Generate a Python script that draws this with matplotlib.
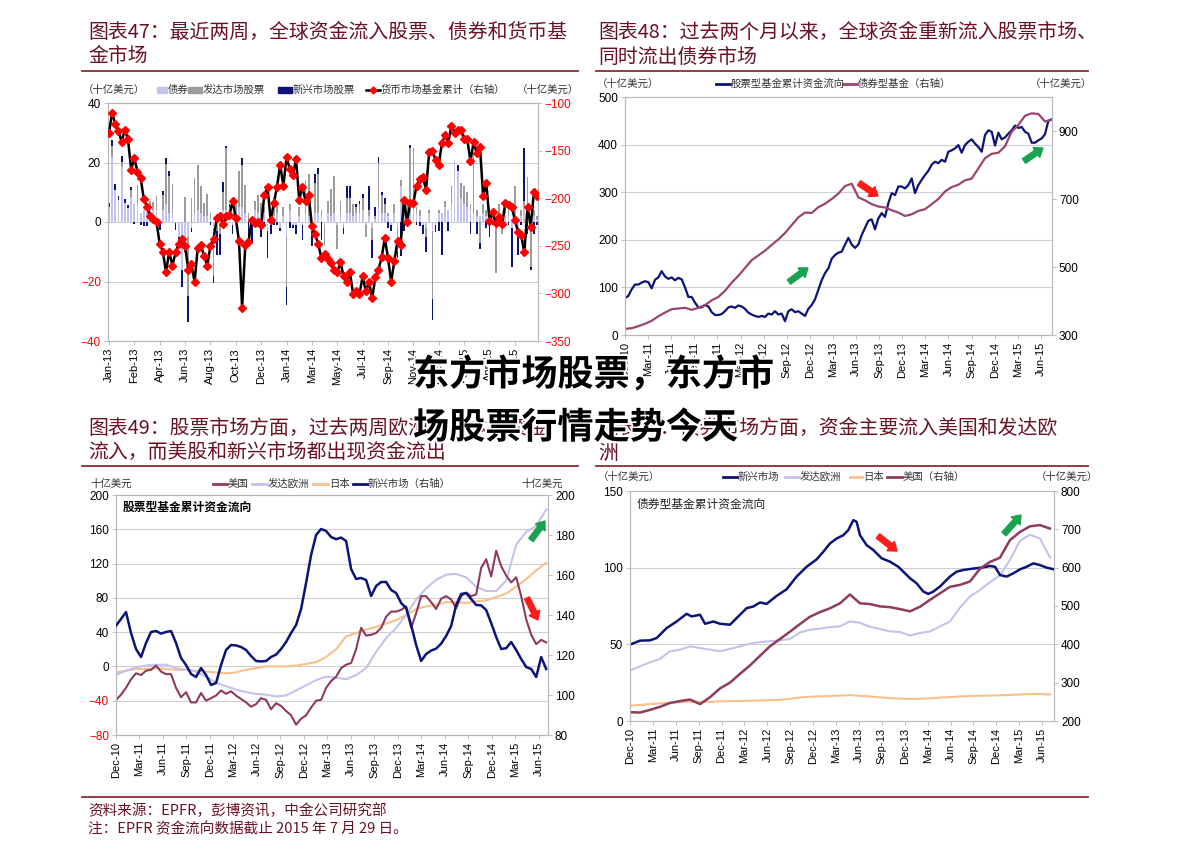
import numpy as np
import matplotlib
matplotlib.use('Agg')
import matplotlib.pyplot as plt
from matplotlib.patches import Rectangle, FancyArrow
from matplotlib.lines import Line2D
import matplotlib.patheffects as pe

plt.rcParams['font.family'] = ['Liberation Sans', 'Noto Sans CJK SC', 'DejaVu Sans']
CJK = ['Noto Sans CJK SC', 'DejaVu Sans']

# ---------------- DATA ----------------
# Chart 47: weekly flows (bn USD), Jan-13 .. Jul-15
bonds = [5, 22, 10.8, 7.4, 18.5, 6.3, 4.7, 8.5, 6, 5.8, 3, 4, 3.5, 5, 4, 4, -0.5, 4, 6, 3, 3,
         -0.5, -5, -16, -7, -5, -2, 3, 4, 3, 2, 2, 1, -2, -1, -1, 4, 4, 3, -1, 2, 5, 5, 3, 0, -1,
         4, 3, 2, 3, -3, -1, 2, 3, -2, 2, -5, 4, -1, -1, 2, -1, 3, 2, -3, 3, 3, 2, -1, 3, 2, 3,
         -1, 3, -1, 3, 3, 2, 3, 3, 4, -1, 2, -2, 1, 5, 3, 3, 2, -1, 3, -2, 12, 4, 3, 3, 4, 3, 2,
         -1, -2, 3, -3, -1, 3, 3, 5, 4, 6, 21, 17, 8, 6, 5, 4, 3, 2, 2, 3, 2, 3, 2, -2, 2, -1, 3,
         2, -2, 2, -2, 2, 5, 3, -2, 2, 1]
dm_equity = [0, 3.5, 0, 0, 1.7, 0, 0, 2.2, 0, 6.7, 0, 0, 0, 2, 2.8, 4.7, 0, 5, 13.5, 12.5, 9.7,
             0, 0, 0, 8.5, -20, 8, 11.7, 15, 9, 4.5, 7.5, 2, -16, -2, -3, 6, 21, 2, 0, 5, 12, 14,
             9.5, 3, 0, 3, 6, 4.5, 2, 0, 0, 4, 4, 0, 3, -17, 2, 0, 0, 3, 0, 11, 14, 0, 10, 13, 2,
             -7, 4, 9, 12.4, -8, 4, -1, 5, 5, 4, 2, 3, 4, -4, 2, -4, 1, 15, 6, 3, 1, 0, 3, -8, 2,
             3, 3, 22, 21, 2, 2, 0, -3, 1, -23, 0, 1, 0, 2, 0, 6, 0, 0, 5, 6, 5, 2, 20, 2, -7, 3,
             2, 2, 0, -15, 4, -3, 2, 2, 0, 10, 0, 2, 2, 12, -13, 2, 1]
em_equity = [1.5, 2.2, 1.9, 1.3, 2, 1.4, 0.9, 1.1, -0.7, 0, -1, -1.3, -1.5, 0, 0, 0, -2.2, 1.4,
             2, 1.7, 0, -2.2, -2.5, -6, -3, -8.5, -1.5, 0, 0, 0, 0, 0, -1, -2.5, -8, -7, 3.5, 0.5,
             1, -3, 0, 0, 2.5, 0, -5, -6, 0, 0, -5, -1, -9, -3, -1, -1, -1, 0, -6, -2, -1, -3, 0,
             -5, 0, 0, -5, 3, 2, -6, 0, 0, 0, 0, 0, 0, -2, 4.2, 4, 0, 1, 1, 1.5, 0, 8, -6, 3, 2,
             1, 2, -2, -2, 0, -2, -11.5, -3, -1, 1, 0, -1, -1.5, -3, -5, 0, -7, -2.5, -3, -11, 0,
             -3, 0, 0, 2, 0, 0, 0, -4, 0, -4, -2, 0, -2, -5, -1, 0, 0, 0, 2, -1, -13, 0, -9, -1,
             18, -4, -1, -4, -1]
mmf_cum = [-132, -110, -122, -129, -141, -128, -138, -170, -158, -172, -179, -201, -209, -219,
           -222, -225, -248, -256, -278, -256, -271, -257, -248, -243, -250, -275, -269, -288,
           -252, -249, -261, -271, -250, -243, -221, -219, -227, -219, -218, -203, -221, -245,
           -315, -249, -246, -223, -226, -225, -228, -197, -188, -223, -205, -188, -165, -187,
           -157, -169, -176, -159, -202, -188, -203, -197, -229, -238, -248, -263, -259, -264,
           -268, -275, -278, -267, -282, -288, -278, -301, -298, -301, -282, -298, -288, -305,
           -283, -275, -262, -242, -263, -288, -266, -245, -249, -202, -225, -205, -205, -187,
           -180, -178, -191, -151, -150, -160, -165, -142, -134, -142, -124, -131, -128, -128,
           -138, -138, -161, -141, -153, -146, -198, -184, -224, -215, -226, -220, -227, -205,
           -207, -209, -223, -235, -239, -257, -209, -230, -194, -198]
labels47 = ['Jan-13', 'Feb-13', 'Apr-13', 'Jun-13', 'Aug-13', 'Oct-13', 'Dec-13', 'Jan-14',
            'Mar-14', 'May-14', 'Jul-14', 'Sep-14', 'Nov-14', 'Dec-14', 'Feb-15', 'Apr-15', 'Jun-15']

# Chart 48: cumulative flows, Dec-10 .. Jul-15 (month offsets from Dec-10)
equity48 = [78, 82, 96, 106, 106, 110, 113, 111, 98, 116, 121, 134, 123, 118, 121, 115, 120, 117,
            100, 80, 80, 68, 58, 58, 63, 60, 48, 42, 42, 44, 50, 58, 60, 57, 62, 60, 55, 47, 43,
            40, 38, 40, 38, 45, 43, 50, 43, 45, 29, 50, 54, 48, 50, 45, 40, 55, 63, 75, 95, 115,
            130, 140, 160, 168, 173, 175, 190, 204, 190, 183, 190, 210, 225, 240, 243, 222, 245,
            256, 248, 277, 298, 294, 312, 312, 308, 315, 329, 298, 315, 326, 336, 345, 358, 364,
            361, 368, 364, 385, 388, 392, 399, 383, 399, 406, 411, 402, 395, 385, 420, 430, 427,
            398, 425, 411, 415, 423, 430, 440, 435, 437, 427, 423, 404, 404, 409, 413, 422, 450, 453]
bond48 = [318, 320, 326, 333, 342, 355, 366, 376, 378, 380, 374, 380, 388, 402, 412, 430, 454,
          474, 497, 520, 534, 548, 565, 581, 600, 623, 646, 660, 659, 676, 686, 700, 716, 738,
          745, 705, 696, 685, 678, 675, 667, 660, 650, 655, 665, 670, 685, 700, 722, 735, 742,
          755, 760, 790, 820, 833, 836, 855, 898, 918, 945, 952, 950, 928, 934]
span48 = 55.41
qlabels = ['Dec-10', 'Mar-11', 'Jun-11', 'Sep-11', 'Dec-11', 'Mar-12', 'Jun-12', 'Sep-12',
           'Dec-12', 'Mar-13', 'Jun-13', 'Sep-13', 'Dec-13', 'Mar-14', 'Jun-14', 'Sep-14',
           'Dec-14', 'Mar-15', 'Jun-15']

# Chart 49: equity funds by region
us49 = [-39, -33, -25, -15, -8, -10, -5, -4, 1, -6, -9, -9, -25, -36, -30, -42, -42, -31, -40,
        -37, -34, -28, -32, -29, -34, -38, -42, -47, -44, -37, -39, -50, -43, -46, -52, -57, -68,
        -61, -57, -48, -40, -39, -25, -17, -12, -2, 2, 4, 20, 45, 36, 37, 39, 45, 58, 64, 64, 66,
        70, 45, 62, 82, 82, 75, 67, 79, 82, 78, 68, 82, 86, 82, 84, 115, 125, 105, 135, 117, 106,
        98, 104, 82, 55, 37, 26, 31, 28]
em49 = [134.7, 138, 141.5, 131, 123, 119, 126, 131.5, 132, 130.7, 131.5, 132, 126, 118.5, 115,
        110.5, 109, 113.5, 110, 105, 106, 115, 122.5, 125, 124.8, 124, 122.5, 119.5, 117, 116.8,
        117, 119, 120.2, 123, 126.5, 131, 135, 143, 156, 170, 180, 183, 182, 179, 177.9, 178.7,
        177, 163, 158, 158.5, 157.5, 149.5, 154.5, 156.5, 156.5, 152.5, 151, 146, 143.5, 135,
        125, 117, 120.5, 122.2, 123.2, 125.7, 129.5, 134.5, 145, 150.5, 151, 148, 145, 144.8,
        142.5, 136, 129, 123, 123.4, 126.5, 122.5, 118, 114, 113, 109, 119, 113]
eu49 = [-10, -5, -1, 1, 2, 2, -2, -4, -6, -12, -19, -23, -27, -30, -32, -33, -35, -34, -28, -22,
        -16, -12, -13, -15, -10, -2, 17, 33, 45, 60, 78, 91, 101, 107, 108, 104, 93, 88, 88, 100,
        142, 157, 164, 183]
jp49 = [-7, -5, -3, -3, -2, -3, -4, -4, -5, -6, -7, -8, -7, -4, -2, 0, 0, 0, 1, 3, 5, 11, 20, 35,
        39, 43, 46, 50, 54, 60, 67, 70, 72, 75, 75, 74, 76, 77, 81, 85, 93, 102, 112, 121]
span49 = 54.97

# Chart 50: bond funds by region
em50_t = [0, 1.31, 2.62, 3.49, 4.8, 6.11, 7.42, 8.08, 9.17, 9.83, 10.92, 11.79, 13.1, 13.97,
          15.28, 16.16, 17.03, 17.9, 19.21, 20.52, 21.83, 23.14, 24.45, 25.33, 26.2, 27.07, 27.95,
          28.6, 29.26, 29.69, 30.13, 31.0, 31.88, 32.97, 34.06, 35.15, 35.81, 36.68, 37.55, 38.43,
          39.08, 39.74, 40.61, 41.92, 42.79, 43.67, 44.98, 46.29, 47.16, 47.82, 48.47, 49.34,
          50.22, 51.09, 51.97, 52.84, 53.71, 54.59, 55.55]
em50 = [49.8, 52.4, 52.6, 54.1, 60.6, 64.9, 69.9, 68.2, 69.3, 63.4, 64.9, 63.4, 62.8, 67.1, 73.6,
        74.7, 77.3, 76.4, 81.6, 85.9, 94.2, 100.6, 105.4, 110.4, 115.8, 119, 121.2, 124.5, 131,
        129.9, 121.2, 114.7, 111.5, 106.1, 103.9, 100.6, 97.4, 93.1, 89.8, 84.4, 82.9, 84.4, 87.7,
        94.2, 97.4, 98.5, 99.4, 100.2, 101.1, 100.6, 95.2, 94.2, 96.3, 98.9, 100.6, 102.8, 101.7,
        100, 98.9]
eu50 = [32.9, 35.7, 38.3, 40.5, 45.5, 46.5, 48.7, 47.6, 46.5, 45.5, 47, 48.7, 50.4, 51.5, 52,
        52.6, 53.5, 57.8, 59.5, 60.2, 61.3, 61.7, 65, 64, 61.5, 60, 58.5, 58, 55.8, 57.4, 58.4,
        61.7, 64.9, 74, 81.2, 85.5, 90.5, 95, 105, 117.5, 121.5, 119, 106.7]
jp50 = [10, 10.5, 11, 11.5, 12, 12.3, 12.5, 12.5, 12.5, 12.8, 13, 13, 13.2, 13.4, 13.6, 13.8,
        14.5, 15.4, 15.8, 16.1, 16.3, 16.6, 16.9, 16.4, 16, 15.4, 15, 14.6, 14.4, 14.5, 14.8,
        15.3, 15.6, 16, 16.3, 16.5, 16.6, 16.8, 17, 17.3, 17.5, 17.6, 17.3]
us50 = [223, 222, 229, 237, 247, 252, 256, 244, 262, 285, 300, 323, 345, 370, 395, 414, 433, 453,
        472, 484, 494, 507, 530, 507, 505, 499, 497, 492, 486, 498, 516, 533, 550, 555, 564, 597,
        615, 626, 672, 693, 708, 711, 702]
span50 = 55.02

# ---------------- STYLE ----------------
NAVY = '#0C1577'
MAROON = '#8E3B5F'
LAV = '#C3C3EE'
GRAY = '#9C9C9C'
ORANGE = '#F8C08C'
RED = '#FF0000'
TITLE = '#6A1222'
GRIDC = '#CFCFCF'
SPINE = '#B8B8B8'

W, H = 1191, 856
fig = plt.figure(figsize=(W / 100, H / 100), dpi=100)


def fx(x):
    return x / W


def fy(y):
    return 1 - y / H


def rect(x0, y0, x1, y1):
    return [fx(x0), fy(y1), (x1 - x0) / W, (y1 - y0) / H]


def ftext(x, y, s, size=7.5, color='#333333', ha='left', **kw):
    fig.text(fx(x), fy(y), s, fontsize=size, color=color, va='center', ha=ha, family=CJK, **kw)


def leg_patch(x0, x1, y, color, h=5):
    fig.patches.append(Rectangle((fx(x0), fy(y + h / 2)), (x1 - x0) / W, h / H,
                                 transform=fig.transFigure, color=color))


def leg_line(x0, x1, y, color, lw=2.0):
    fig.add_artist(Line2D([fx(x0), fx(x1)], [fy(y), fy(y)], transform=fig.transFigure,
                          color=color, lw=lw))


def style(ax, axr):
    for a in (ax, axr):
        for s in a.spines.values():
            s.set_color(SPINE)
            s.set_linewidth(0.8)
        a.tick_params(length=3, width=0.6, color=SPINE, labelsize=8.5, pad=2)
    ax.tick_params(axis='x', labelsize=8, rotation=90)


def red_neg(ax):
    for lab, v in zip(ax.get_yticklabels(), ax.get_yticks()):
        if v < 0:
            lab.set_color(RED)


# ---------------- Titles / separators ----------------
for (x, y, s) in [(88, 32, '图表47：最近两周，全球资金流入股票、债券和货币基'), (88, 57, '金市场'),
                  (598, 32, '图表48：过去两个月以来，全球资金重新流入股票市场、'), (598, 57, '同时流出债券市场'),
                  (88, 428, '图表49：股票市场方面，过去两周欧洲和日本有资金'),
                  (88, 453, '流入，而美股和新兴市场都出现资金流出'),
                  (598, 428, '图表50：债券市场方面，资金主要流入美国和发达欧'), (598, 453, '洲')]:
    ftext(x, y, s, size=14.3, color=TITLE, style='italic')

for (x0, x1, y) in [(82, 578, 70.5), (596, 1088, 70.5), (82, 578, 466), (596, 1088, 466),
                    (82, 1088, 797)]:
    fig.add_artist(Line2D([fx(x0), fx(x1)], [fy(y), fy(y)], transform=fig.transFigure,
                          color='#8B2E3A', lw=1.3))

ftext(88, 811, '资料来源：EPFR，彭博资讯，中金公司研究部', size=10.5, color=TITLE, style='italic')
ftext(88, 829, '注：EPFR 资金流向数据截止 2015 年 7 月 29 日。', size=10.5, color=TITLE, style='italic')

# ---------------- Chart 47 ----------------
ax = fig.add_axes(rect(108, 103, 538, 341))
n = len(mmf_cum)
x = np.arange(n)
pos = np.zeros(n)
neg = np.zeros(n)
for vals, col in [(bonds, LAV), (dm_equity, GRAY), (em_equity, NAVY)]:
    v = np.array(vals[:n], dtype=float)
    b = np.where(v >= 0, pos, neg)
    ax.bar(x, v, bottom=b, width=0.55, color=col, linewidth=0, zorder=2)
    pos += np.where(v > 0, v, 0)
    neg += np.where(v < 0, v, 0)
ax.set_ylim(-40, 40)
ax.set_yticks([-40, -20, 0, 20, 40])
ax.set_xlim(-0.3, n - 0.7)
for g in (20, 0, -20):
    ax.axhline(g, color=GRIDC, lw=0.8, zorder=1)
ax.set_xticks(np.arange(0, 8 * len(labels47), 8))
ax.set_xticklabels(labels47)
axr = ax.twinx()
axr.plot(x, mmf_cum, color='black', lw=1.8, marker='D', ms=4.3, mfc=RED, mec=RED, zorder=3)
axr.set_ylim(-350, -100)
axr.set_yticks([-350, -300, -250, -200, -150, -100])
style(ax, axr)
red_neg(ax)
for lab in axr.get_yticklabels():
    lab.set_color(RED)

ftext(83, 90, '（十亿美元）')
leg_patch(157, 167, 90, LAV)
ftext(168, 90, '债券')
leg_patch(188, 202, 90, GRAY)
ftext(203, 90, '发达市场股票')
leg_patch(278, 292, 90, NAVY)
ftext(293, 90, '新兴市场股票')
leg_line(366, 380, 90, 'black', lw=1.8)
fig.add_artist(Line2D([fx(373)], [fy(90)], transform=fig.transFigure, marker='D', ms=3.5,
                      color=RED, lw=0))
ftext(381, 90, '货币市场基金累计（右轴）')
ftext(517, 90, '（十亿美元）')

# ---------------- Chart 48 ----------------
ax = fig.add_axes(rect(625, 97, 1052, 335))
t = np.linspace(0, span48, len(equity48))
ax.plot(t, equity48, color=NAVY, lw=1.6, zorder=3)
ax.set_ylim(0, 500)
ax.set_yticks(range(0, 501, 100))
for g in (100, 200, 300, 400):
    ax.axhline(g, color=GRIDC, lw=0.8, zorder=1)
ax.set_xlim(0, 55.45)
ax.set_xticks(np.arange(0, 3 * len(qlabels), 3))
ax.set_xticklabels(qlabels)
axr = ax.twinx()
axr.plot(np.linspace(0, span48, len(bond48)), bond48, color='#9A4670', lw=1.6, zorder=2)
axr.set_ylim(300, 1000)
axr.set_yticks([300, 500, 700, 900])
style(ax, axr)

ftext(597, 84, '（十亿美元）')
leg_line(716, 730, 84, NAVY)
ftext(731, 84, '股票型基金累计资金流向')
leg_line(843, 857, 84, '#9A4670')
ftext(858, 84, '债券型基金（右轴）')
ftext(1030, 84, '（十亿美元）')

# ---------------- Chart 49 ----------------
ax = fig.add_axes(rect(116, 495, 548, 735))
t_a = np.linspace(0, span49, len(us49))
t_b = np.linspace(0, span49, len(eu49))
ax.plot(t_b, jp49, color=ORANGE, lw=1.5, zorder=3)
ax.plot(t_b, eu49, color=LAV, lw=1.5, zorder=3)
ax.plot(t_a, us49, color=MAROON, lw=1.5, zorder=4)
ax.set_ylim(-80, 200)
ax.set_yticks(range(-80, 201, 40))
for g in (160, 120, 80, 40, 0, -40):
    ax.axhline(g, color=GRIDC, lw=0.8, zorder=1)
ax.set_xlim(0, 55.2)
ax.set_xticks(np.arange(0, 3 * len(qlabels), 3))
ax.set_xticklabels(qlabels)
axr = ax.twinx()
axr.plot(np.linspace(0, span49, len(em49)), em49, color=NAVY, lw=1.8, zorder=5)
axr.set_ylim(80, 200)
axr.set_yticks(range(80, 201, 20))
style(ax, axr)
red_neg(ax)
ax.text(0.015, 0.95, '股票型基金累计资金流向', transform=ax.transAxes, fontsize=8.5,
        fontweight='bold', family=CJK, va='center', ha='left', color='black')

ftext(90, 484, '十亿美元')
leg_line(213, 227, 484, MAROON)
ftext(228, 484, '美国')
leg_line(252, 267, 484, LAV)
ftext(268, 484, '发达欧洲')
leg_line(313, 328, 484, ORANGE)
ftext(329, 484, '日本')
leg_line(353, 367, 484, NAVY)
ftext(368, 484, '新兴市场（右轴）')
ftext(521, 484, '十亿美元')

# ---------------- Chart 50 ----------------
ax = fig.add_axes(rect(630, 491, 1054, 721))
t_c = np.linspace(0, span50, len(eu50))
ax.plot(t_c, jp50, color=ORANGE, lw=1.5, zorder=3)
ax.plot(t_c, eu50, color=LAV, lw=1.5, zorder=3)
ax.plot(em50_t, em50, color=NAVY, lw=1.8, zorder=4)
ax.set_ylim(0, 150)
ax.set_yticks([0, 50, 100, 150])
for g in (50, 100):
    ax.axhline(g, color=GRIDC, lw=0.8, zorder=1)
ax.set_xlim(0, 55.55)
ax.set_xticks(np.arange(0, 3 * len(qlabels), 3))
ax.set_xticklabels(qlabels)
axr = ax.twinx()
axr.plot(t_c, us50, color=MAROON, lw=1.8, zorder=2)
axr.set_ylim(200, 800)
axr.set_yticks(range(200, 801, 100))
style(ax, axr)
ax.text(0.015, 0.945, '债券型基金累计资金流向', transform=ax.transAxes, fontsize=8.5,
        family=CJK, va='center', ha='left', color='#222222')

ftext(598, 477, '（十亿美元）')
leg_line(723, 737, 477, NAVY)
ftext(738, 477, '新兴市场')
leg_line(785, 799, 477, LAV)
ftext(800, 477, '发达欧洲')
leg_line(850, 862, 477, ORANGE)
ftext(863, 477, '日本')
leg_line(887, 902, 477, MAROON)
ftext(903, 477, '美国（右轴）')
ftext(1036, 477, '（十亿美元）')

# ---------------- Arrows (decorations) ----------------
GREEN = '#19A351'
ARED = '#FF1A1A'
arrows = [((789, 282), (808, 268), GREEN), ((859, 183), (878, 196), ARED),
          ((1024, 161), (1043, 148), GREEN), ((531, 540), (545, 521), GREEN),
          ((527, 598), (538, 620), ARED), ((878, 536), (897, 551), ARED),
          ((1004, 534), (1021, 515), GREEN)]
for (x0, y0), (x1, y1), c in arrows:
    X0, Y0 = x0 / 100, (H - y0) / 100
    X1, Y1 = x1 / 100, (H - y1) / 100
    fig.patches.append(FancyArrow(X0, Y0, X1 - X0, Y1 - Y0, width=0.055, head_width=0.12,
                                  head_length=0.08, length_includes_head=True, color=c,
                                  transform=fig.dpi_scale_trans))

# ---------------- Watermark overlay ----------------
for (x, y, s) in [(413, 375, '东方市场股票，东方市'), (413, 428, '场股票行情走势今天')]:
    fig.text(fx(x), fy(y), s, fontsize=26, fontweight='bold', family=CJK, color='black',
             va='center', ha='left',
             path_effects=[pe.withStroke(linewidth=3, foreground='white')], zorder=20)

fig.savefig('out.png', dpi=100)
